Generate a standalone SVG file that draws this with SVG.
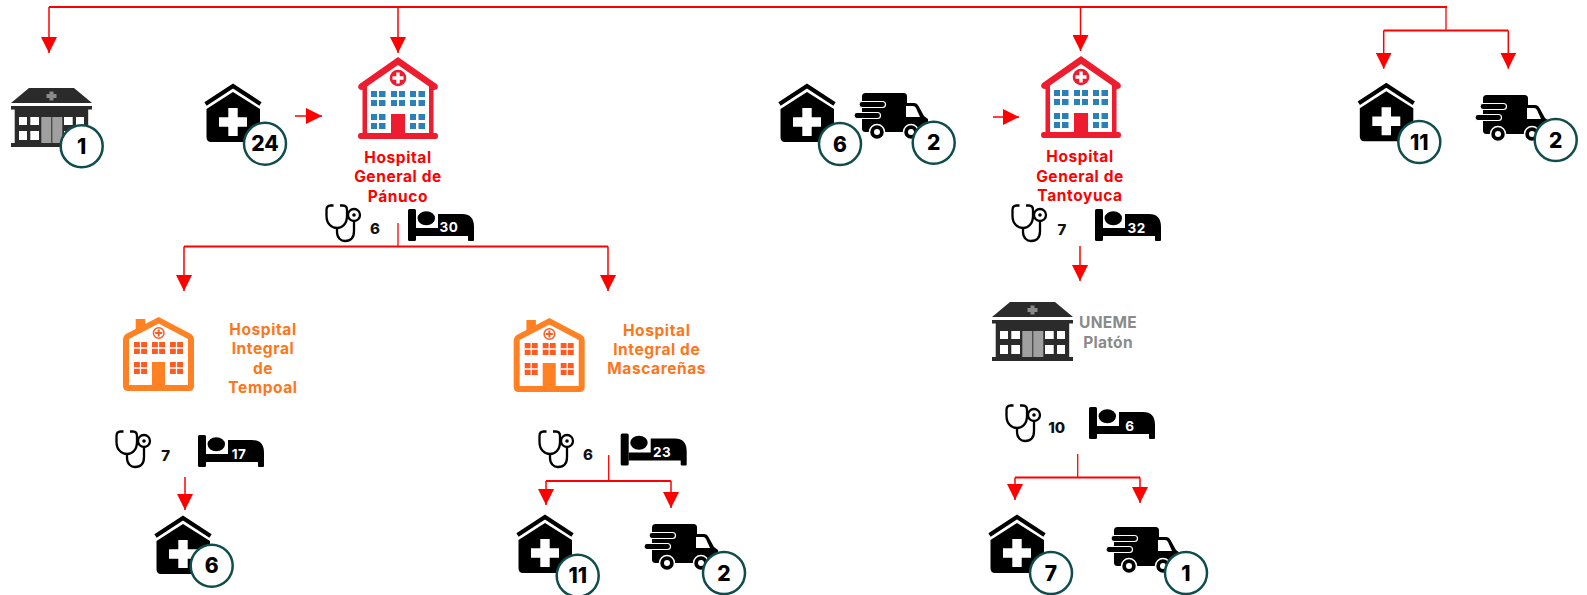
<svg xmlns="http://www.w3.org/2000/svg" xmlns:xlink="http://www.w3.org/1999/xlink" width="1587" height="595" viewBox="0 0 1587 595">
<style>
text{font-family:"Inter","Liberation Sans",sans-serif;font-weight:700;text-anchor:middle}
.main{fill:none;stroke:#f00;stroke-width:2}
.drop{fill:none;stroke:#f00;stroke-width:1.5;marker-end:url(#ah)}
.stem{fill:none;stroke:#f00;stroke-width:1.3}
.badge circle{fill:#fff;stroke:#0f4c4c;stroke-width:2.5}
.badge text{font-size:21px;fill:#000;font-weight:800}
.lr{font-size:15.5px;fill:#f00;letter-spacing:.6px}
.lo{font-size:15.5px;fill:#ff7519;letter-spacing:.6px}
.lg{font-size:15.5px;fill:#8a8a8a;letter-spacing:.3px}
.cnt{font-size:15px;fill:#111;font-weight:800}
.bedn{font-size:13.5px;fill:#fff;letter-spacing:.5px}
.blue{fill:#2a80b9}
.ow{fill:#ff5a1f}
</style>
<defs>
<marker id="ah" markerUnits="userSpaceOnUse" markerWidth="16" markerHeight="16" refX="16" refY="8" orient="auto"><polygon points="0,0 16,8 0,16" fill="#f00"/></marker>
<g id="clinic">
<polyline points="1.5,20 29,2 56.5,20" fill="none" stroke="#000" stroke-width="4.2"/>
<path d="M29 8 L56 25 V53 Q56 58 51 58 H7 Q2.5 58 2.5 53 V25 Z" fill="#000"/>
<path d="M24.3 24 H33.7 V33.3 H43 V42.7 H33.7 V52 H24.3 V42.7 H15 V33.3 H24.3 Z" fill="#fff"/>
</g>
<g id="truck">
<rect x="8" y="0" width="45" height="39" rx="3.5" fill="#000"/>
<path d="M52 10 H60 Q63 10 64.5 13 L70 23 L74 26 V36 Q74 39 71 39 H52 Z" fill="#000"/>
<path d="M52 13 H59 Q61 13 62 15 L66 24 H52 Z" fill="#fff"/>
<rect x="5" y="8.5" width="26.5" height="6" rx="3" fill="#000" stroke="#fff" stroke-width="1.2"/>
<rect x="0" y="19.5" width="26.5" height="6" rx="3" fill="#000" stroke="#fff" stroke-width="1.2"/>
<circle cx="23" cy="39" r="7.5" fill="#000" stroke="#fff" stroke-width="1.5"/><circle cx="23" cy="39" r="3" fill="#fff"/>
<circle cx="57" cy="39" r="7.5" fill="#000" stroke="#fff" stroke-width="1.5"/><circle cx="57" cy="39" r="3" fill="#fff"/>
</g>
<g id="hospR">
<path d="M40 0 L78.500 27 Q81 29.500 79 32 Q78 33 75.500 33 V76 H77.500 Q80 76 80 79 Q80 82 77.500 82 H2.500 Q0 82 0 79 Q0 76 2.500 76 H4.500 V33 Q2 33 1 32 Q-1 29.500 1.500 27 Z" fill="#ed1c2e"/>
<path d="M40 8 L71 29.500 V76 H9 V29.500 Z" fill="#fff"/>
<circle cx="40" cy="21" r="8.300" fill="#ed1c2e"/>
<path d="M38.300 15.500 H41.700 V19.300 H45.500 V22.700 H41.700 V26.500 H38.300 V22.700 H34.500 V19.300 H38.300 Z" fill="#fff"/>
<g class="blue">
<rect x="13" y="34" width="6" height="6"/><rect x="21" y="34" width="6.500" height="6"/><rect x="33" y="34" width="6" height="6"/><rect x="41" y="34" width="6" height="6"/><rect x="52" y="34" width="6" height="6"/><rect x="60.500" y="34" width="6.500" height="6"/>
<rect x="13" y="43" width="6" height="6"/><rect x="21" y="43" width="6.500" height="6"/><rect x="33" y="43" width="6" height="6"/><rect x="41" y="43" width="6" height="6"/><rect x="52" y="43" width="6" height="6"/><rect x="60.500" y="43" width="6.500" height="6"/>
<rect x="13" y="57" width="6" height="6"/><rect x="21" y="57" width="6.500" height="6"/><rect x="52" y="57" width="6" height="6"/><rect x="60.500" y="57" width="6.500" height="6"/>
<rect x="13" y="66" width="6" height="6"/><rect x="21" y="66" width="6.500" height="6"/><rect x="52" y="66" width="6" height="6"/><rect x="60.500" y="66" width="6.500" height="6"/>
</g>
<rect x="33" y="57" width="14" height="20" fill="#ed1c2e"/>
</g>
<g id="win"><rect width="13" height="12" class="ow"/><path d="M6.500 0 V12 M0 6 H13" stroke="#fff" stroke-width="1.300"/></g>
<g id="hospO">
<rect x="12.700" y="2" width="9.500" height="12" fill="#ff8124"/>
<path d="M35.700 0 L68 17 Q71 19 71 23 V69 Q71 74 66 74 H5 Q0 74 0 69 V23 Q0 19 3 17 Z" fill="#ff8124"/>
<path d="M35.700 6.500 L65 22 V68 H6 V22 Z" fill="#fff"/>
<circle cx="35.700" cy="16" r="5.300" fill="#fff" stroke="#ff5a1f" stroke-width="1.500"/>
<path d="M34.700 12.500 H36.700 V15 H39.200 V17 H36.700 V19.500 H34.700 V17 H32.200 V15 H34.700 Z" class="ow"/>
<use href="#win" x="11" y="25"/><use href="#win" x="29" y="25"/><use href="#win" x="47" y="25"/>
<use href="#win" x="11" y="45"/><use href="#win" x="47" y="45"/>
<rect x="29" y="45" width="13" height="24" fill="#ff8124"/>
</g>
<g id="bldg">
<path d="M18 0 H63 L81 15 H0 Z" fill="#2b2b2b"/>
<rect x="0" y="18" width="81" height="3.500" fill="#2b2b2b"/>
<rect x="3.700" y="21" width="73.500" height="35" fill="#2b2b2b"/>
<rect x="0" y="55" width="81" height="4" fill="#2b2b2b"/>
<path d="M38.500 3.500 H42.500 V6 H45.500 V10 H42.500 V12.500 H38.500 V10 H35.500 V6 H38.500 Z" fill="#8a8a8a"/>
<g fill="#fff">
<rect x="8" y="29" width="8" height="8"/><rect x="19.300" y="29" width="8.700" height="8"/><rect x="53" y="29" width="8.700" height="8"/><rect x="65" y="29" width="8" height="8"/>
<rect x="8" y="43" width="8" height="9"/><rect x="19.300" y="43" width="8.700" height="9"/><rect x="53" y="43" width="8.700" height="9"/><rect x="65" y="43" width="8" height="9"/>
</g>
<rect x="30.300" y="29" width="10" height="26" fill="#a0a0a0"/><rect x="41.300" y="29" width="10" height="26" fill="#a0a0a0"/>
</g>
<g id="steth" fill="none" stroke="#000">
<path d="M8.500 1.500 H5.500 Q1.500 1.500 1.500 6 V12 C1.500 20 7 24 12 24 C17 24 22 20 22 12 V6 Q22 1.500 18 1.500 H15" stroke-width="2.300"/>
<path d="M12 24 V28 C12 34 16 37 20 37 C26 37 29 33 29 27 V18" stroke-width="2.300"/>
<circle cx="29" cy="11" r="6" stroke-width="2.300"/>
<circle cx="29" cy="11" r="1.800" fill="#000" stroke="none"/>
</g>
<g id="bed">
<rect x="0" y="0" width="8" height="32" rx="1.500" fill="#000"/>
<ellipse cx="18.300" cy="9.300" rx="8.700" ry="7" fill="#000"/>
<path d="M30 5 H54 Q66 5 66 18 V31 Q66 32 65 32 H61 Q60 32 60 31 V27 H8 V19 H30 Z" fill="#000"/>
</g>
</defs>

<g id="connectors">
<path class="main" d="M49 7 H1447"/>
<path class="drop" d="M49 7 V53"/>
<path class="drop" d="M398 7 V53"/>
<path class="drop" d="M1080.500 7 V51"/>
<path class="stem" d="M1446 7 V30.500"/>
<path class="main" d="M1383.700 30.500 H1508.300"/>
<path class="drop" d="M1383.700 30.500 V68.700"/>
<path class="drop" d="M1508.300 30.500 V68.700"/>
<path class="drop" d="M295 116 H322"/>
<path class="drop" d="M993 117 H1019"/>
<path class="stem" d="M398 223 V246"/>
<path class="main" d="M184 246.500 H608"/>
<path class="drop" d="M184 246.500 V291"/>
<path class="drop" d="M608 246.500 V291"/>
<path class="drop" d="M1080 246 V281"/>
<path class="drop" d="M185 477 V510"/>
<path class="stem" d="M608.700 455 V481"/>
<path class="main" d="M546 481 H671"/>
<path class="drop" d="M546 481 V505"/>
<path class="drop" d="M671 481 V508"/>
<path class="stem" d="M1077.700 454 V477.500"/>
<path class="main" d="M1015 477.500 H1140"/>
<path class="drop" d="M1015 477.500 V500"/>
<path class="drop" d="M1140 477.500 V503"/>
</g>

<g id="node-top-uneme"><use href="#bldg" x="11" y="88"/><g class="badge"><circle cx="81.700" cy="146.300" r="21"/><text x="81.700" y="153.800">1</text></g></g>
<g id="node-clinics-panuco"><use href="#clinic" x="204" y="84"/><g class="badge"><circle cx="265" cy="143.700" r="21"/><text x="265" y="151.200">24</text></g></g>
<g id="node-hospital-panuco"><use href="#hospR" x="358" y="57"/>
<text class="lr"><tspan x="398" y="162.700">Hospital</tspan><tspan x="398" y="182">General de</tspan><tspan x="398" y="201.700">Pánuco</tspan></text>
<use href="#steth" x="325" y="204"/><text class="cnt" x="375" y="234">6</text>
<use href="#bed" x="408" y="209"/><text class="bedn" x="449" y="232">30</text></g>
<g id="node-clinics-tantoyuca"><use href="#clinic" x="778" y="84"/><g class="badge"><circle cx="840" cy="144" r="21"/><text x="840" y="151.500">6</text></g></g>
<g id="node-truck-tantoyuca"><use href="#truck" x="854" y="93"/><g class="badge"><circle cx="933.700" cy="142.700" r="21"/><text x="933.700" y="150.200">2</text></g></g>
<g id="node-hospital-tantoyuca"><use href="#hospR" x="1041" y="56"/>
<text class="lr"><tspan x="1080" y="162">Hospital</tspan><tspan x="1080" y="181.700">General de</tspan><tspan x="1080" y="201">Tantoyuca</tspan></text>
<use href="#steth" x="1011" y="204"/><text class="cnt" x="1062" y="235">7</text>
<use href="#bed" x="1095" y="209"/><text class="bedn" x="1136.700" y="233">32</text></g>
<g id="node-clinics-right"><use href="#clinic" x="1357.300" y="83.300"/><g class="badge"><circle cx="1419.300" cy="142" r="21"/><text x="1419.300" y="149.500">11</text></g></g>
<g id="node-truck-right"><use href="#truck" x="1475" y="95"/><g class="badge"><circle cx="1555.700" cy="140" r="21"/><text x="1555.700" y="147.500">2</text></g></g>
<g id="node-hospital-tempoal"><use href="#hospO" x="123" y="317"/>
<text class="lo"><tspan x="263" y="334.700">Hospital</tspan><tspan x="263" y="354">Integral</tspan><tspan x="263" y="374">de</tspan><tspan x="263" y="393">Tempoal</tspan></text>
<use href="#steth" x="115" y="430"/><text class="cnt" x="165.700" y="460.700">7</text>
<use href="#bed" x="198" y="435"/><text class="bedn" x="239" y="459">17</text></g>
<g id="node-clinics-tempoal"><use href="#clinic" x="154" y="516"/><g class="badge"><circle cx="211.700" cy="565.700" r="21"/><text x="211.700" y="573.200">6</text></g></g>
<g id="node-hospital-mascarenas"><use href="#hospO" x="513.700" y="318"/>
<text class="lo"><tspan x="656.700" y="335.700">Hospital</tspan><tspan x="656.700" y="355">Integral de</tspan><tspan x="656.700" y="374">Mascareñas</tspan></text>
<use href="#steth" x="538" y="430"/><text class="cnt" x="588" y="460">6</text>
<use href="#bed" x="620.700" y="433.500"/><text class="bedn" x="662" y="456.700">23</text></g>
<g id="node-clinics-mascarenas"><use href="#clinic" x="516" y="515"/><g class="badge"><circle cx="577.700" cy="575.700" r="21"/><text x="577.700" y="583.200">11</text></g></g>
<g id="node-truck-mascarenas"><use href="#truck" x="644" y="524"/><g class="badge"><circle cx="724" cy="573" r="21"/><text x="724" y="580.500">2</text></g></g>
<g id="node-uneme-platon"><use href="#bldg" x="992" y="302"/>
<text class="lg"><tspan x="1108" y="327.700">UNEME</tspan><tspan x="1108" y="347.700">Platón</tspan></text>
<use href="#steth" x="1005" y="404"/><text class="cnt" x="1056.700" y="432.700">10</text>
<use href="#bed" x="1089" y="407"/><text class="bedn" x="1130" y="430.700">6</text></g>
<g id="node-clinics-platon"><use href="#clinic" x="988" y="515"/><g class="badge"><circle cx="1051" cy="573" r="21"/><text x="1051" y="580.500">7</text></g></g>
<g id="node-truck-platon"><use href="#truck" x="1106" y="527"/><g class="badge"><circle cx="1186" cy="573" r="21"/><text x="1186" y="580.500">1</text></g></g>
</svg>
